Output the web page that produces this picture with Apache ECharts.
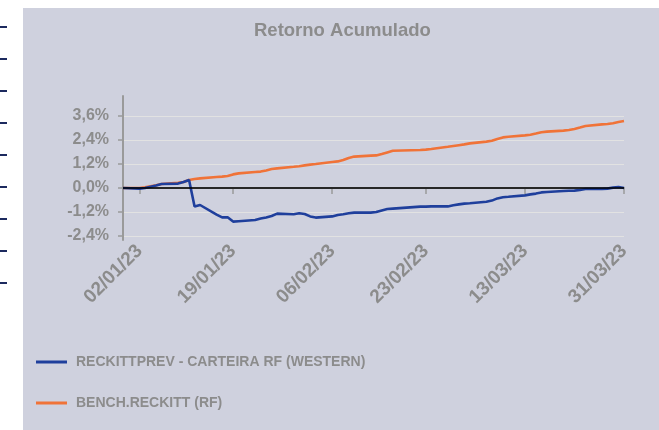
<!DOCTYPE html>
<html>
<head>
<meta charset="utf-8">
<script src="https://cdn.jsdelivr.net/npm/echarts@6/dist/echarts.min.js"></script>
<style>
  html, body { margin: 0; padding: 0; background: #ffffff; }
  #chart { width: 659px; height: 430px; }
</style>
</head>
<body>
<div id="chart"></div>
<script>
// dias úteis (jan-mar 2023)
const dates = [
  '2022-12-30', '2023-01-02', '2023-01-03', '2023-01-04', '2023-01-05', '2023-01-06',
  '2023-01-09', '2023-01-10', '2023-01-11', '2023-01-12', '2023-01-13',
  '2023-01-16', '2023-01-17', '2023-01-18', '2023-01-19', '2023-01-20',
  '2023-01-23', '2023-01-24', '2023-01-25', '2023-01-26', '2023-01-27',
  '2023-01-30', '2023-01-31', '2023-02-01', '2023-02-02', '2023-02-03',
  '2023-02-06', '2023-02-07', '2023-02-08', '2023-02-09', '2023-02-10',
  '2023-02-13', '2023-02-14', '2023-02-15', '2023-02-16', '2023-02-17',
  '2023-02-22', '2023-02-23', '2023-02-24',
  '2023-02-27', '2023-02-28', '2023-03-01', '2023-03-02', '2023-03-03',
  '2023-03-06', '2023-03-07', '2023-03-08', '2023-03-09', '2023-03-10',
  '2023-03-13', '2023-03-14', '2023-03-15', '2023-03-16', '2023-03-17',
  '2023-03-20', '2023-03-21', '2023-03-22', '2023-03-23', '2023-03-24',
  '2023-03-27', '2023-03-28', '2023-03-29', '2023-03-30', '2023-03-31'
]
// retorno acumulado em %
const carteira = [
  0, -0.03, 0.0, 0.06, 0.12, 0.2,
  0.22, 0.3, 0.4, -0.93, -0.85,
  -1.33, -1.47, -1.46, -1.68, -1.66,
  -1.6, -1.53, -1.47, -1.4, -1.28,
  -1.31, -1.26, -1.3, -1.42, -1.48,
  -1.42, -1.35, -1.31, -1.26, -1.23,
  -1.23, -1.2, -1.12, -1.05, -1.03,
  -0.93, -0.93, -0.92,
  -0.92, -0.86, -0.82, -0.78, -0.76,
  -0.69, -0.63, -0.52, -0.46, -0.44,
  -0.37, -0.32, -0.28, -0.22, -0.2,
  -0.15, -0.14, -0.13, -0.1, -0.05,
  -0.05, -0.03, 0.02, 0.05, 0.0
]
const bench = [
  0, 0.0, 0.04, 0.09, 0.14, 0.2,
  0.26, 0.3, 0.4, 0.45, 0.48,
  0.55, 0.57, 0.6, 0.68, 0.73,
  0.8, 0.82, 0.88, 0.95, 0.98,
  1.06, 1.09, 1.13, 1.17, 1.2,
  1.3, 1.33, 1.4, 1.5, 1.57,
  1.62, 1.63, 1.7, 1.78, 1.86,
  1.9, 1.92, 1.95,
  2.06, 2.1, 2.14, 2.18, 2.23,
  2.32, 2.36, 2.45, 2.53, 2.56,
  2.63, 2.66, 2.72, 2.79, 2.82,
  2.87, 2.9, 2.95, 3.02, 3.1,
  3.18, 3.2, 3.24, 3.3, 3.35
]
const xTicks = ['2023-01-02', '2023-01-19', '2023-02-06', '2023-02-23', '2023-03-13', '2023-03-31']
const yTicks = [-2.4, -1.2, 0, 1.2, 2.4, 3.6]
const names = ['RECKITTPREV - CARTEIRA RF (WESTERN)', 'BENCH.RECKITT (RF)']

const DAY = 86400000
const toDate = s => {
  const p = s.split('-')
  return new Date(+p[0], +p[1] - 1, +p[2])
}
const t0 = toDate(dates[0]).getTime()
// dias corridos desde a primeira data
const toDay = s => Math.round((toDate(s).getTime() - t0) / DAY)
const pad = n => (n < 10 ? '0' : '') + n
const gray = '#8c8c8c'
const font = "'Liberation Sans', Arial, sans-serif"

// marcas escuras na borda esquerda (resto de outro gráfico)
const sideMarks = []
for (let i = 0; i < 9; i++) {
  sideMarks.push({
    type: 'line',
    shape: { x1: 0, y1: 27 + i * 32, x2: 7, y2: 27 + i * 32 },
    style: { stroke: '#1c2a5e', lineWidth: 2 }
  })
}

const myChart = echarts.init(document.getElementById('chart'))
const options = {
  animation: false,
  graphic: [
    {
      type: 'rect',
      z: -10,
      shape: { x: 23, y: 8, width: 636, height: 422 },
      style: { fill: '#cfd1de' }
    },
    { type: 'group', children: sideMarks }
  ],
  title: {
    text: 'Retorno Acumulado',
    left: 249,
    top: 16,
    textStyle: { color: gray, fontSize: 18.5, fontWeight: 'bold', fontFamily: font }
  },
  legend: {
    orient: 'vertical',
    left: 36,
    top: 352,
    padding: 0,
    itemGap: 21,
    itemWidth: 31,
    itemHeight: 3,
    icon: 'rect',
    data: names,
    textStyle: {
      color: gray,
      fontSize: 14,
      fontWeight: 'bold',
      fontFamily: font,
      lineHeight: 20,
      padding: [0, 0, 0, 4]
    }
  },
  grid: {
    left: 123,
    right: 35,
    top: 96,
    bottom: 190
  },
  xAxis: {
    type: 'value',
    min: 0,
    max: toDay(dates[dates.length - 1]),
    axisLine: { lineStyle: { color: '#9a9a9a', width: 2 } },
    axisTick: {
      show: true,
      length: 6,
      customValues: xTicks.map(toDay),
      lineStyle: { color: '#9a9a9a', width: 1.5 }
    },
    axisLabel: {
      customValues: xTicks.map(toDay),
      rotate: 45,
      margin: 8,
      color: gray,
      fontSize: 19,
      fontWeight: 'bold',
      fontFamily: font,
      formatter: function (v) {
        const d = new Date(t0 + v * DAY + 3600000 * 12)
        return pad(d.getDate()) + '/' + pad(d.getMonth() + 1) + '/' + pad(d.getFullYear() % 100)
      }
    },
    splitLine: { show: false }
  },
  yAxis: {
    type: 'value',
    min: -2.6,
    max: 4.6,
    axisLine: { show: true, lineStyle: { color: '#9a9a9a', width: 2 } },
    axisTick: {
      show: true,
      length: 5,
      customValues: yTicks,
      lineStyle: { color: '#9a9a9a', width: 1.5 }
    },
    axisLabel: {
      customValues: yTicks,
      margin: 14,
      color: gray,
      fontSize: 16,
      fontWeight: 'bold',
      fontFamily: font,
      formatter: function (v) {
        return v.toFixed(1).replace('.', ',') + '%'
      }
    },
    splitLine: {
      show: true,
      lineStyle: { color: '#e2e2e2', width: 1 }
    }
  },
  series: [
    {
      name: names[0],
      type: 'line',
      z: 4,
      symbol: 'none',
      data: dates.map((d, i) => [toDay(d), carteira[i]]),
      lineStyle: { color: '#1f3f9c', width: 2.6 },
      itemStyle: { color: '#1f3f9c' }
    },
    {
      name: names[1],
      type: 'line',
      z: 3,
      symbol: 'none',
      data: dates.map((d, i) => [toDay(d), bench[i]]),
      lineStyle: { color: '#f07338', width: 2.6 },
      itemStyle: { color: '#f07338' },
      markLine: {
        silent: true,
        symbol: 'none',
        label: { show: false },
        lineStyle: { color: '#000000', width: 1.5, type: 'solid' },
        data: [{ yAxis: 0 }]
      }
    }
  ]
}
myChart.setOption(options)
</script>
</body>
</html>
